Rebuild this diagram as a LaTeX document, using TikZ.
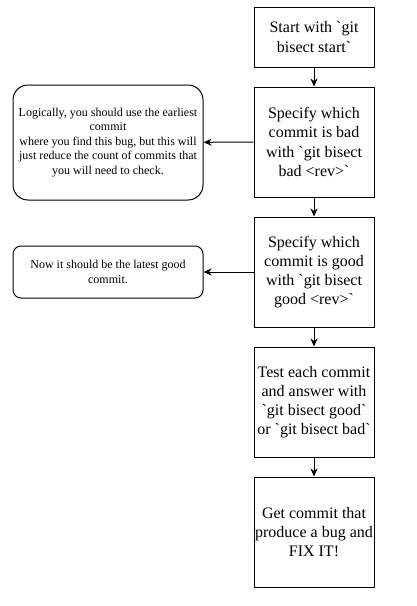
\documentclass[tikz,border=0pt]{standalone}
\usepackage{fontspec}
\setmainfont{Liberation Serif}
\usetikzlibrary{arrows.meta}
\newcommand\bqt{\textasciigrave}
\begin{document}
\begin{tikzpicture}[x=1pt,y=-1pt,
  stepbox/.style={draw,line width=1pt,minimum width=120pt,align=center,inner sep=0pt,font=\fontsize{16}{19.2}\selectfont},
  notebox/.style={draw,line width=1pt,minimum width=190pt,align=center,inner sep=0pt,font=\fontsize{12}{14.4}\selectfont},
  conn/.style={line width=1pt,-{Stealth[length=8pt,width=7pt,inset=2.5pt]}}]
\useasboundingbox (0,0) rectangle (417,606);
\node[stepbox,minimum height=60pt] (s1) at (314,37) {Start with \bqt git\\bisect start\bqt};
\node[stepbox,minimum height=110pt] (s2) at (314,142) {Specify which\\commit is bad\\with \bqt git bisect\\bad <rev>\bqt};
\node[stepbox,minimum height=110pt] (s3) at (314,272) {Specify which\\commit is good\\with \bqt git bisect\\good <rev>\bqt};
\node[stepbox,minimum height=110pt] (s4) at (314,402) {Test each commit\\and answer with\\\bqt git bisect good\bqt\\or \bqt git bisect bad\bqt};
\node[stepbox,minimum height=110pt] (s5) at (314,532) {Get commit that\\produce a bug and\\FIX IT!};
\node[notebox,minimum height=115pt,rounded corners=15pt] (n1) at (108,142.5) {Logically, you should use the earliest\\commit\\where you find this bug, but this will\\just reduce the count of commits that\\you will need to check.};
\node[notebox,minimum height=52pt,rounded corners=8pt] (n2) at (108,272) {Now it should be the latest good\\commit.};
\draw[conn] (s1) -- (s2);
\draw[conn] (s2) -- (s3);
\draw[conn] (s3) -- (s4);
\draw[conn] (s4) -- (s5);
\draw[conn] (s2) -- (n1);
\draw[conn] (s3) -- (n2);
\end{tikzpicture}
\end{document}
